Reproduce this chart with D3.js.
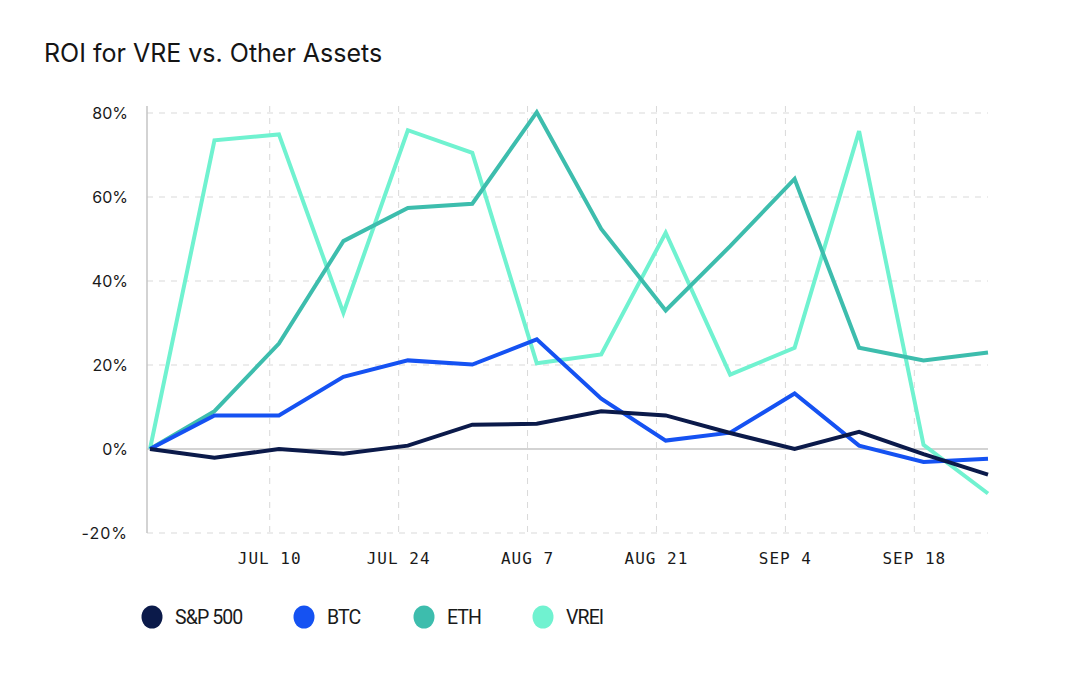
<!DOCTYPE html>
<html>
<head>
<meta charset="utf-8">
<script src="https://cdn.jsdelivr.net/npm/d3@7"></script>
<style>
  body { margin: 0; background: #fff; }
  svg { display: block; }
</style>
</head>
<body>
<svg id="chart" width="1080" height="675"></svg>
<script>
// weekly observation dates
const dates = ["2023-06-27", "2023-07-04", "2023-07-11", "2023-07-18", "2023-07-25",
  "2023-08-01", "2023-08-08", "2023-08-15", "2023-08-22", "2023-08-29",
  "2023-09-05", "2023-09-12", "2023-09-19", "2023-09-26"];

const spx = [0, -2.1, 0, -1.1, 0.8, 5.8, 6.0, 9.0, 8.0, 3.8, 0, 4.1, -1.2, -6.1];
const btc = [0, 8.0, 8.0, 17.2, 21.1, 20.1, 26.1, 12.0, 2.0, 3.9, 13.2, 0.8, -3.1, -2.3];
const eth = [0, 9.0, 25.1, 49.5, 57.4, 58.4, 80.2, 52.4, 33.0, 48.3, 64.3, 24.1, 21.1, 23.0];
const vrei = [0, 73.5, 74.9, 32.4, 75.9, 70.5, 20.4, 22.5, 51.5, 17.7, 24.1, 75.7, 1.0, -10.6];

const seriesNames = ["S&P 500", "BTC", "ETH", "VREI"];
const seriesColors = ["#0b1a4a", "#1552f2", "#3dbdad", "#70f2d0"];
const xTicks = ["2023-07-10", "2023-07-24", "2023-08-07", "2023-08-21", "2023-09-04", "2023-09-18"];
const yTicks = [-20, 0, 20, 40, 60, 80];

(function () {
  const svg = d3.select("#chart");
  const parse = d3.timeParse("%Y-%m-%d");
  const fmt = d3.timeFormat("%b %-d");

  const left = 147, right = 988, top = 106, bottom = 533;

  const x = d3.scaleTime()
    .domain([parse(dates[0]), parse(dates[dates.length - 1])])
    .range([150, right]);
  const y = d3.scaleLinear().domain([-20, 80]).range([bottom, 113]);

  const series = [spx, btc, eth, vrei].map((vals, i) => ({
    name: seriesNames[i],
    color: seriesColors[i],
    values: vals.map((v, j) => ({ date: parse(dates[j]), v }))
  }));

  // title
  svg.append("text")
    .attr("x", 44)
    .attr("y", 62)
    .attr("fill", "#151515")
    .style("font-family", "Inter, 'Noto Sans', sans-serif")
    .style("font-size", "25px")
    .text("ROI for VRE vs. Other Assets");

  // vertical grid
  svg.append("g")
    .selectAll("line")
    .data(xTicks)
    .join("line")
    .attr("x1", d => x(parse(d)))
    .attr("x2", d => x(parse(d)))
    .attr("y1", top)
    .attr("y2", bottom)
    .attr("stroke", "#d9d9d9")
    .attr("stroke-width", 1)
    .attr("stroke-dasharray", "6,6");

  // horizontal grid
  svg.append("g")
    .selectAll("line")
    .data(yTicks)
    .join("line")
    .attr("x1", left)
    .attr("x2", right)
    .attr("y1", d => y(d))
    .attr("y2", d => y(d))
    .attr("stroke", d => d === 0 ? "#c4c4c4" : "#d9d9d9")
    .attr("stroke-width", d => d === 0 ? 1.5 : 1)
    .attr("stroke-dasharray", d => d === 0 ? null : "6,6");

  // left axis line
  svg.append("line")
    .attr("x1", left).attr("x2", left)
    .attr("y1", top).attr("y2", bottom)
    .attr("stroke", "#c4c4c4")
    .attr("stroke-width", 1.5);

  // y labels
  svg.append("g")
    .selectAll("text")
    .data(yTicks)
    .join("text")
    .attr("x", 128)
    .attr("y", d => y(d))
    .attr("dy", "0.36em")
    .attr("text-anchor", "end")
    .attr("fill", "#1a1a1a")
    .style("font-family", "Inter, 'Noto Sans', sans-serif")
    .style("font-size", "16px")
    .style("letter-spacing", d => d < 0 ? "1px" : "0px")
    .text(d => d + "%");

  // x labels
  svg.append("g")
    .selectAll("text")
    .data(xTicks)
    .join("text")
    .attr("x", d => x(parse(d)))
    .attr("y", 564)
    .attr("text-anchor", "middle")
    .attr("fill", "#1a1a1a")
    .style("font-family", "'DejaVu Sans Mono', monospace")
    .style("font-size", "16px")
    .style("letter-spacing", "1px")
    .text(d => fmt(parse(d)).toUpperCase());

  // lines, VREI first so S&P ends on top
  const line = d3.line().x(d => x(d.date)).y(d => y(d.v));
  svg.append("g")
    .selectAll("path")
    .data(series.slice().reverse())
    .join("path")
    .attr("d", d => line(d.values))
    .attr("fill", "none")
    .attr("stroke", d => d.color)
    .attr("stroke-width", 4)
    .attr("stroke-linejoin", "miter")
    .attr("stroke-linecap", "butt");

  // legend
  const legendX = [152, 304, 424, 543];
  const lg = svg.append("g")
    .selectAll("g")
    .data(series)
    .join("g")
    .attr("transform", (d, i) => `translate(${legendX[i]},617)`);
  lg.append("ellipse")
    .attr("rx", 10.5)
    .attr("ry", 11.5)
    .attr("fill", d => d.color);
  lg.append("text")
    .attr("x", 23)
    .attr("dy", "0.36em")
    .attr("fill", "#1a1a1a")
    .style("font-family", "Roboto, 'Noto Sans', sans-serif")
    .style("font-size", "19.5px")
    .style("letter-spacing", "-0.9px")
    .text(d => d.name);
})();
</script>
</body>
</html>
